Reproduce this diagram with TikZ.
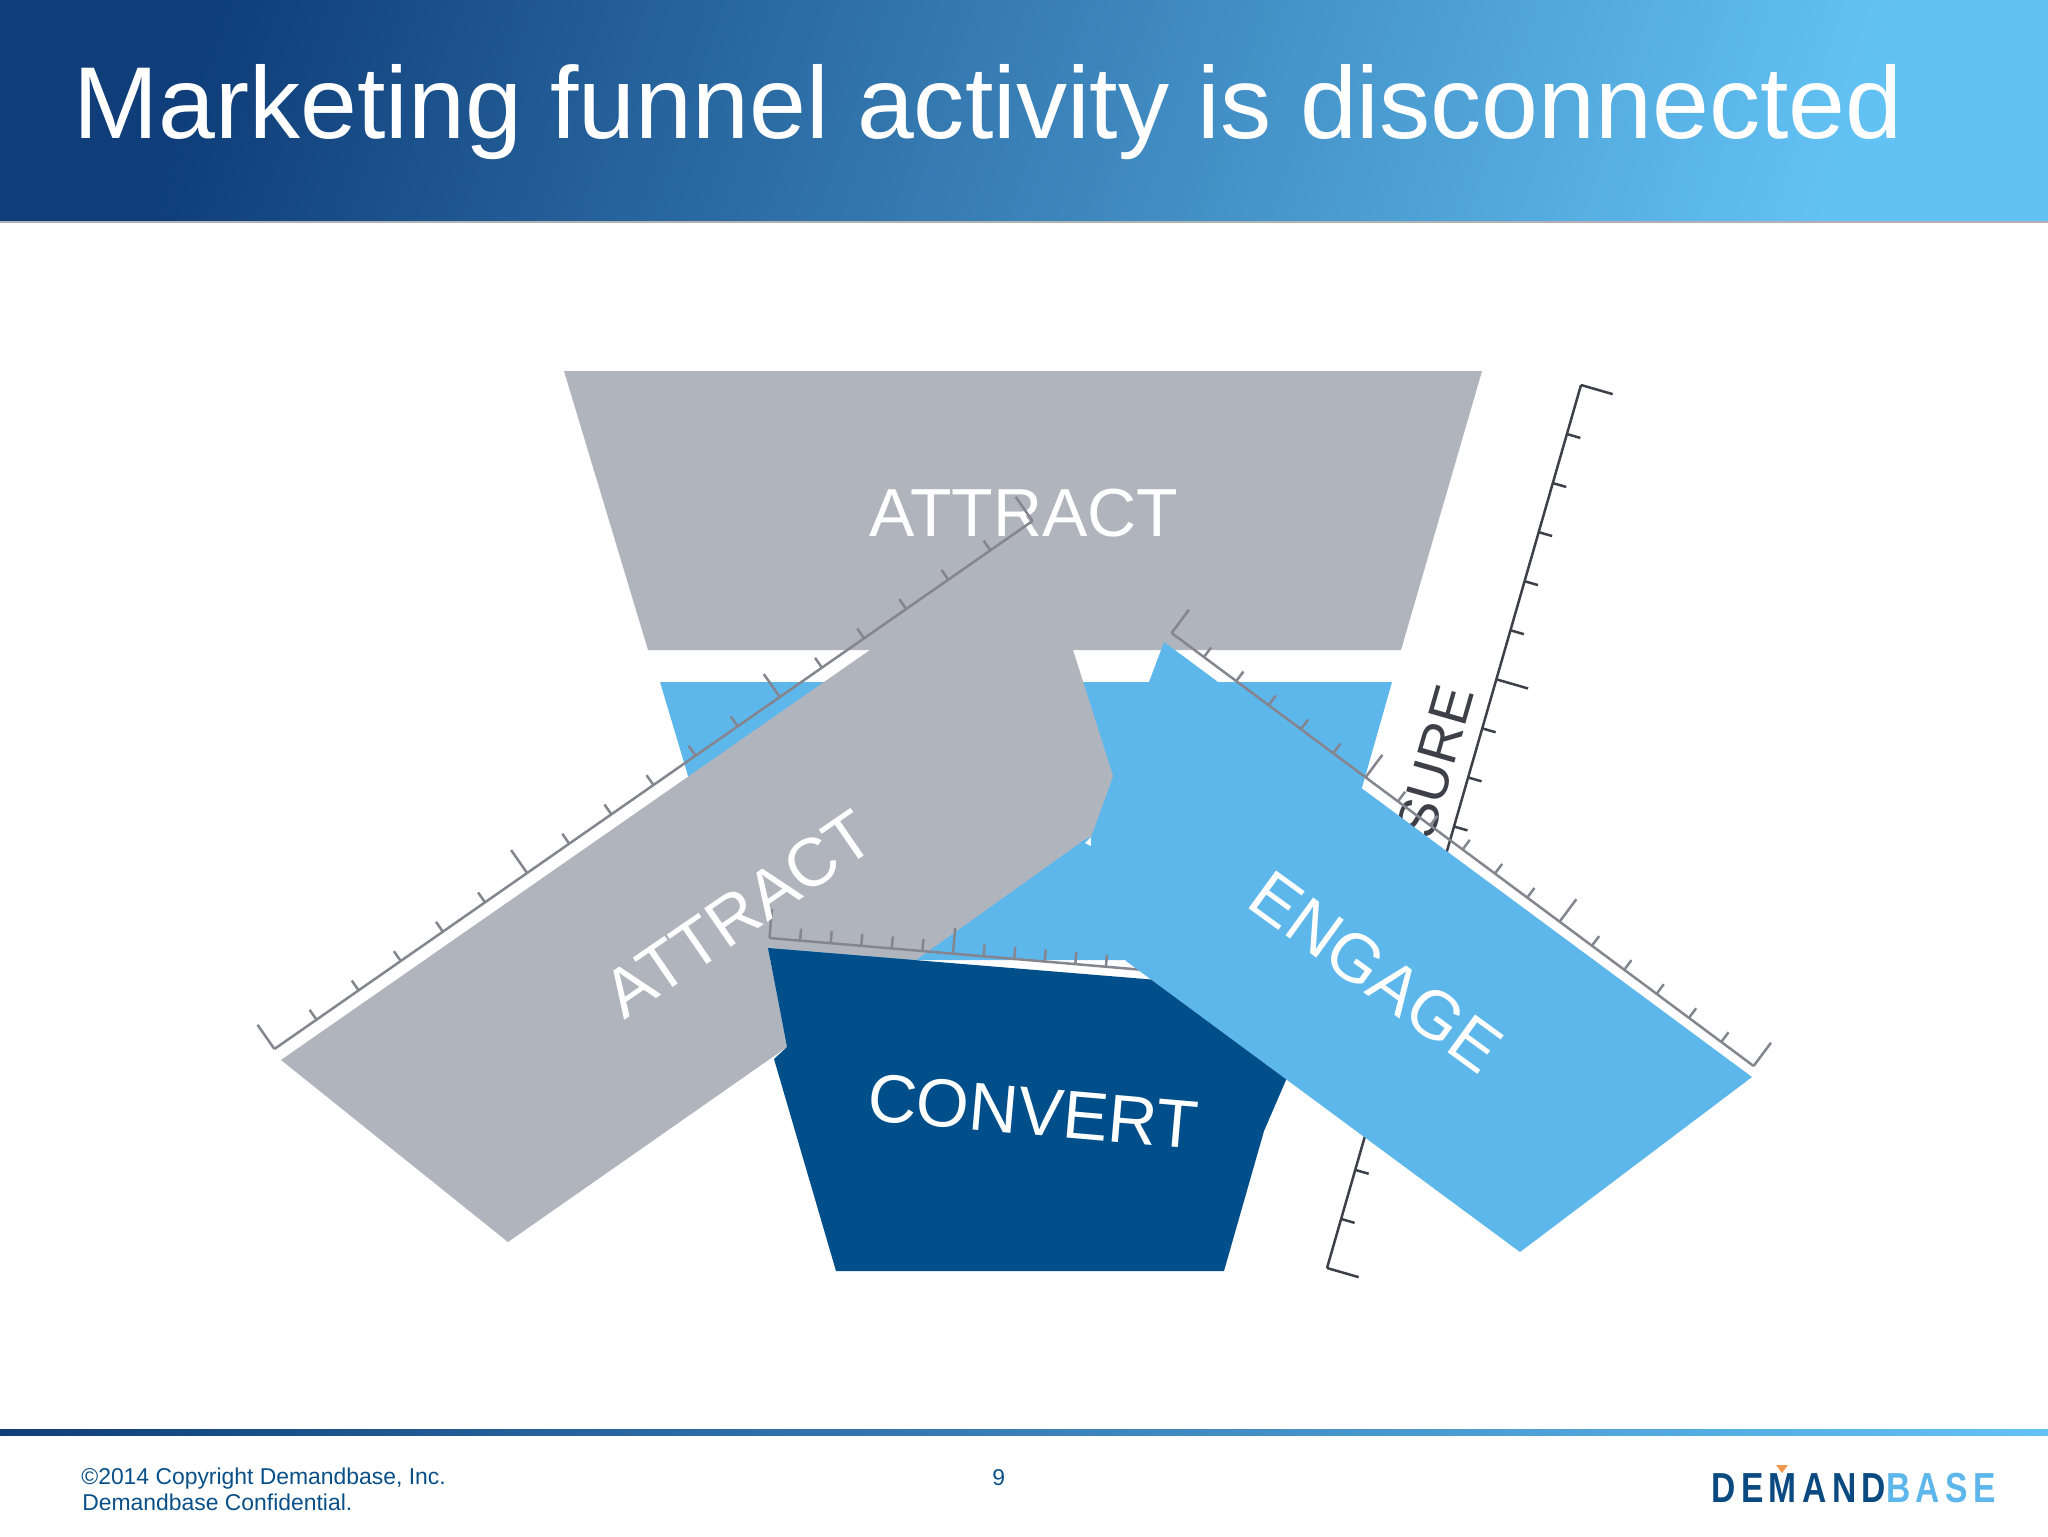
\documentclass[tikz,border=0pt]{standalone}
\usepackage{fontspec}
\setmainfont{Liberation Sans}
\newfontfamily\logofont[LetterSpace=13,FakeStretch=0.8]{Liberation Sans Bold}
\usetikzlibrary{calc}
\definecolor{fgray}{HTML}{B0B4BD}
\definecolor{fblue}{HTML}{5EB7EB}
\definecolor{fdark}{HTML}{004F8A}
\definecolor{rulegray}{HTML}{85858F}
\definecolor{ruledark}{HTML}{3F3F4A}
\definecolor{foot}{HTML}{0A5088}
\definecolor{headL}{HTML}{0F3E7A}
\definecolor{headM}{HTML}{3F80B5}
\definecolor{headR}{HTML}{63C2F4}
\definecolor{logodark}{HTML}{0B4A80}
\definecolor{logoorange}{HTML}{EE9A55}
\tikzset{
  rulegrayline/.style={draw=rulegray,line width=1.25pt},
  ruledarkline/.style={draw=ruledark,line width=1.25pt},
  funneltext/.style={text=white,font=\fontsize{34}{34}\selectfont,inner sep=0pt},
  foottext/.style={text=foot,font=\fontsize{11.45}{14}\selectfont,inner sep=0pt,anchor=base west},
}
% start, end, perpendicular unit x,y, minor, major, cap length, style
\newcommand{\scaleruler}[8]{%
  \draw[#8] (#1) -- (#2);
  \foreach \i in {0,...,18}{%
    \pgfmathsetmacro\len{ifthenelse(mod(\i,18)==0,#7,ifthenelse(mod(\i,6)==0,#6,#5))}%
    \draw[#8] ($(#1)!\i/18!(#2)$) -- ++(#3*\len,#4*\len);
  }%
}
\begin{document}
\begin{tikzpicture}[x=0.5pt,y=-0.5pt]
\useasboundingbox (0,0) rectangle (2048,1536);
\fill[white] (0,0) rectangle (2048,1536);
% header
\shade[left color=headL,middle color=headM,right color=headR,shading angle=72] (0,0) rectangle (2048,221);
\fill[black!30] (0,221) rectangle (2048,223);
\node[text=white,font=\fontsize{51.1}{51.1}\selectfont,inner sep=0pt,anchor=base west] (title) at (73,138) {Marketing funnel activity is disconnected};
% top funnel
\fill[fgray] (564,371) -- (1482,371) -- (1401,650) -- (648,650) -- cycle;
\node[funneltext,anchor=base] (attractA) at (1024,536) {ATTRACT};
% middle trapezoid
\fill[fblue] (660,682) -- (1392,682) -- (1313,960) -- (743,960) -- cycle;
% measure scale
\coordinate (ms) at (1581,385);
\coordinate (me) at (1327,1268);
\scaleruler{ms}{me}{0.96}{0.277}{14}{33}{33}{ruledarkline}
\node[text=ruledark,font=\fontsize{28}{28}\selectfont,inner sep=0pt,anchor=base east,rotate=74] (measure) at (1475,692) {MEASURE};
% gray band
\fill[fgray] (281,1060) -- (870,650) -- (1073,650) -- (1113,776) -- (1092,836) -- (1084,840) -- (916,960) -- (768,948) -- (787,1047) -- (508,1242) -- cycle;
% dark funnel
\fill[fdark] (768,948) -- (1340,995) -- (1286,1080) -- (1264,1131) -- (1224,1271) -- (836,1271) -- (774,1059) -- (787,1047) -- cycle;
\node[funneltext,rotate=-5,anchor=base] (convert) at (1031,1135) {CONVERT};
% left and bottom scales
\coordinate (ls) at (274.4,1049);
\coordinate (le) at (1032.5,521);
\scaleruler{ls}{le}{-0.572}{-0.82}{12}{28}{29.5}{rulegrayline}
\coordinate (bs) at (769.5,938);
\coordinate (be) at (1320,985);
\scaleruler{bs}{be}{0.084}{-0.996}{12}{26}{29}{rulegrayline}
\node[funneltext,rotate=34.5,anchor=base] (attractB) at (752,933) {ATTRACT};
% small gap at the band's corner
\fill[white] (1085,843) -- (1091,837) -- (1091,846) -- cycle;
% engage band
\fill[fblue] (1164,642) -- (1752,1077) -- (1520,1252) -- (1126,961) -- (1091,846) -- (1091,837) -- cycle;
\node[funneltext,rotate=-36,anchor=base] (engage) at (1362,991) {ENGAGE};
% right scale
\coordinate (rs) at (1171.6,633);
\coordinate (re) at (1753.6,1066);
\scaleruler{rs}{re}{0.597}{-0.802}{12}{28}{29}{rulegrayline}
% footer
\shade[left color=headL,middle color=headM,right color=headR] (0,1429) rectangle (2048,1435);
\node[foottext] (copy) at (81,1484) {©2014 Copyright Demandbase, Inc.};
\node[foottext] (conf) at (82,1510.5) {Demandbase Confidential.};
\node[foottext] (page) at (992,1485) {9};
% logo
\node[inner sep=0pt,anchor=base west,font=\logofont\fontsize{21}{21}\selectfont,text=logodark] (logoA) at (1711,1502) {DEMAND\textcolor{fblue}{BASE}};
\fill[logoorange] (1776,1465) -- (1788,1465) -- (1782,1473) -- cycle;
\end{tikzpicture}
\end{document}
